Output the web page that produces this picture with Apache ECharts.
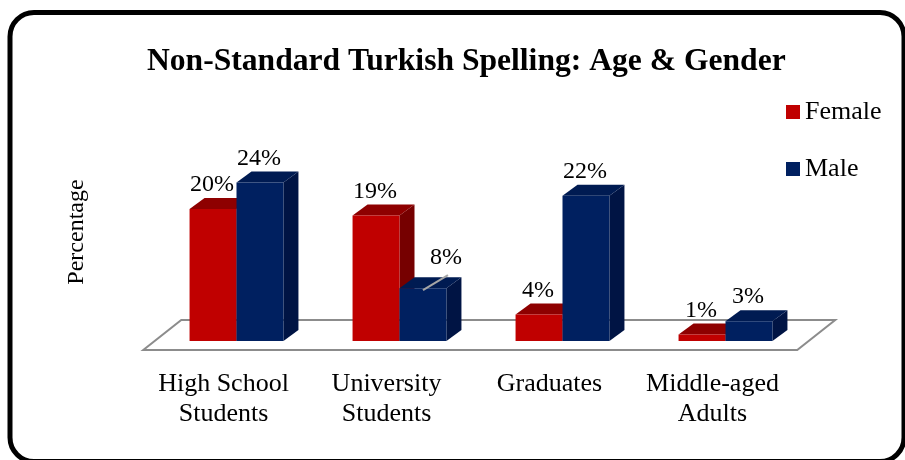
<!DOCTYPE html>
<html>
<head>
<meta charset="utf-8">
<script src="https://cdn.jsdelivr.net/npm/echarts@6/dist/echarts.min.js"></script>
<style>
  html, body { margin: 0; padding: 0; background: #fff; }
  #chart { width: 905px; height: 460px; }
</style>
</head>
<body>
<div id="chart"></div>
<script>
// Share of non-standard spelling by age group and gender (percent)
const categories = ['High School\nStudents', 'University\nStudents', 'Graduates', 'Middle-aged\nAdults'];
const femaleValues = [20, 19, 4, 1];
const maleValues = [24, 8, 22, 3];
const seriesNames = ['Female', 'Male'];

const FONT = '"Liberation Serif", "Times New Roman", serif';
const BAR_RATIO = 0.288;      // bar width as a share of the category band
const DEPTH_X = 15;           // pseudo-3D extrusion
const DEPTH_Y = -11;

const palettes = [
  { front: '#C00000', top: '#8E0000', side: '#760000' },
  { front: '#002060', top: '#001B52', side: '#001444' }
];

// Label shifted aside with a leader line (series index -> category index -> [dx, dy])
const labelShifts = { 1: { 1: [24, -6] } };

function barRenderer(seriesIndex) {
  const colors = palettes[seriesIndex];
  return function (params, api) {
    const cat = api.value(0);
    const val = api.value(1);
    const top = api.coord([cat, val]);
    const base = api.coord([cat, 0]);
    const band = api.size([1, 0])[0];
    const w = band * BAR_RATIO;
    const x0 = seriesIndex === 0 ? top[0] - w : top[0];
    const x1 = x0 + w;
    const yT = top[1];
    const yB = base[1];

    const children = [
      { type: 'polygon', shape: { points: [[x1, yT], [x1 + DEPTH_X, yT + DEPTH_Y], [x1 + DEPTH_X, yB + DEPTH_Y], [x1, yB]] },
        style: { fill: colors.side } },
      { type: 'polygon', shape: { points: [[x0, yT], [x1, yT], [x1 + DEPTH_X, yT + DEPTH_Y], [x0 + DEPTH_X, yT + DEPTH_Y]] },
        style: { fill: colors.top } },
      { type: 'rect', shape: { x: x0, y: yT, width: w, height: yB - yT },
        style: { fill: colors.front } }
    ];

    const cx = (x0 + x1) / 2;
    let lx = cx - 1;
    let ly = yT - 24;
    const shift = labelShifts[seriesIndex] && labelShifts[seriesIndex][cat];
    if (shift) {
      lx += shift[0];
      ly += shift[1];
      children.push({ type: 'line', shape: { x1: cx, y1: yT + 2, x2: lx + 2, y2: ly + 17 },
        style: { stroke: '#A6A6A6', lineWidth: 2 } });
    }
    children.push({ type: 'text', style: { text: val + '%', x: lx, y: ly, align: 'center', verticalAlign: 'middle',
      font: '24px ' + FONT, fill: '#000' } });
    return { type: 'group', children: children };
  };
}

// Floor plane beneath the bars
function floorRenderer(params, api) {
  const first = api.coord([0, 0]);
  const last = api.coord([categories.length - 1, 0]);
  const band = api.size([1, 0])[0];
  const yF = first[1] + 9;
  const xl = first[0] - band * 0.572;
  const xr = last[0] + band * 0.44;
  const bx = 38, by = -30;
  return {
    type: 'polygon',
    shape: { points: [[xl, yF], [xr, yF], [xr + bx, yF + by], [xl + bx, yF + by]] },
    style: { fill: '#fff', stroke: '#8C8C8C', lineWidth: 2 }
  };
}

const chart = echarts.init(document.getElementById('chart'), null, { renderer: 'canvas' });

chart.setOption({
  animation: false,
  backgroundColor: '#fff',
  title: {
    text: 'Non-Standard Turkish Spelling: Age & Gender',
    left: 142,
    top: 41,
    textStyle: { fontFamily: FONT, fontSize: 31.6, fontWeight: 'bold', color: '#000' }
  },
  legend: {
    data: seriesNames,
    orient: 'vertical',
    left: 781,
    top: 94,
    icon: 'rect',
    itemWidth: 14,
    itemHeight: 14,
    itemGap: 31,
    textStyle: { fontFamily: FONT, fontSize: 26, color: '#000' }
  },
  grid: { left: 155, width: 652, top: 143, bottom: 119, containLabel: false },
  xAxis: {
    type: 'category',
    data: categories,
    axisLine: { show: false },
    axisTick: { show: false },
    axisLabel: { margin: 28, fontFamily: FONT, fontSize: 26, lineHeight: 30, color: '#000', interval: 0,
      padding: [0, 26, 0, 0] }
  },
  yAxis: {
    type: 'value',
    min: 0,
    max: 30,
    axisLine: { show: false },
    axisTick: { show: false },
    axisLabel: { show: false },
    splitLine: { show: false }
  },
  graphic: [
    {
      type: 'text',
      x: 77,
      y: 232,
      rotation: Math.PI / 2,
      style: { text: 'Percentage', align: 'center', verticalAlign: 'middle', font: '24px ' + FONT, fill: '#000' },
      silent: true
    },
    {
      type: 'rect',
      shape: { x: 10, y: 12.5, width: 894, height: 449, r: 24 },
      style: { fill: 'none', stroke: '#000', lineWidth: 5 },
      silent: true,
      z: 100
    }
  ],
  series: [
    {
      type: 'custom',
      name: 'floor',
      z: 1,
      renderItem: floorRenderer,
      encode: { x: 0, y: 1 },
      data: [[0, 0]],
      silent: true
    },
    {
      type: 'custom',
      name: seriesNames[0],
      z: 2,
      itemStyle: { color: palettes[0].front },
      renderItem: barRenderer(0),
      encode: { x: 0, y: 1 },
      data: femaleValues.map((v, i) => [i, v])
    },
    {
      type: 'custom',
      name: seriesNames[1],
      z: 3,
      itemStyle: { color: palettes[1].front },
      renderItem: barRenderer(1),
      encode: { x: 0, y: 1 },
      data: maleValues.map((v, i) => [i, v])
    }
  ]
});
</script>
</body>
</html>
